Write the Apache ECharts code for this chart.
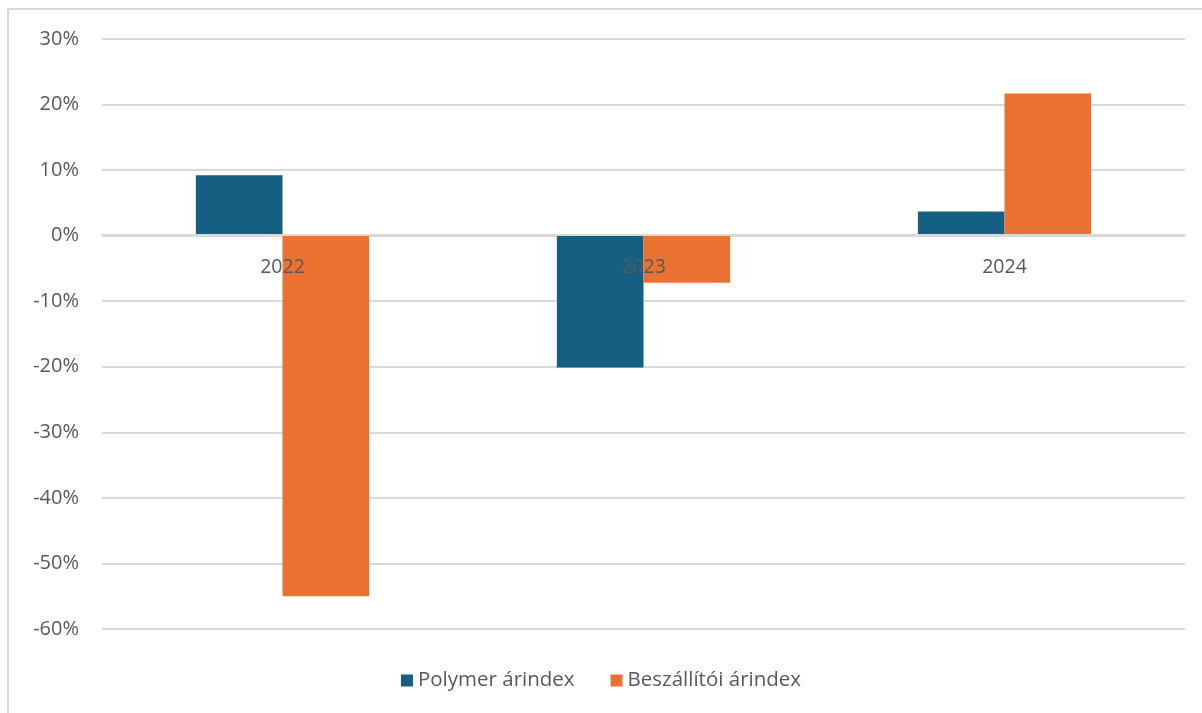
<!DOCTYPE html>
<html>
<head>
<meta charset="utf-8">
<script src="https://cdn.jsdelivr.net/npm/echarts@6/dist/echarts.min.js"></script>
<style>
  html, body { margin: 0; padding: 0; background: #fff; }
  #chart { width: 1202px; height: 713px; }
</style>
</head>
<body>
<div id="chart"></div>
<script>
// adatok
const years = ["2022", "2023", "2024"];
const polymer = [9.2, -20.1, 3.7];
const beszallitoi = [-55.0, -7.2, 21.7];
const seriesNames = ["Polymer árindex", "Beszállítói árindex"];
const colors = ["#156082", "#E97132"];

const chart = echarts.init(document.getElementById("chart"));
const font = "'Open Sans', 'Liberation Sans', sans-serif";

chart.setOption({
    animation: false,
    textStyle: { fontFamily: font },
    graphic: [{
        type: "rect",
        shape: { x: 8, y: 9, width: 1400, height: 900 },
        style: { fill: "none", stroke: "#d9d9d9", lineWidth: 2 },
        silent: true,
    }],
    grid: { left: 102, right: 17, top: 39, bottom: 84 },
    legend: {
        bottom: 17,
        left: "center",
        itemWidth: 12,
        itemHeight: 12,
        itemGap: 36,
        icon: "rect",
        textStyle: { fontSize: 20.5, color: "#595959", fontFamily: font },
        data: seriesNames,
    },
    xAxis: {
        type: "category",
        data: years,
        z: 10,
        // kategória címkék a 0%-os vonalon (Excel stílus)
        offset: -394,
        axisLine: { onZero: false, lineStyle: { color: "#d9d9d9", width: 2 } },
        axisTick: { show: false },
        axisLabel: { fontSize: 19.5, color: "#595959", margin: 22 },
    },
    yAxis: {
        type: "value",
        min: -60,
        max: 30,
        interval: 10,
        axisLine: { show: false },
        axisTick: { show: false },
        splitLine: { lineStyle: { color: "#d9d9d9", width: 2 } },
        axisLabel: { fontSize: 20, color: "#595959", margin: 23, formatter: "{value}%" },
    },
    series: [
        {
            name: seriesNames[0],
            type: "bar",
            data: polymer,
            barGap: "0%",
            barCategoryGap: "52%",
            itemStyle: { color: colors[0] },
        },
        {
            name: seriesNames[1],
            type: "bar",
            data: beszallitoi,
            itemStyle: { color: colors[1] },
        },
    ],
});
</script>
</body>
</html>
